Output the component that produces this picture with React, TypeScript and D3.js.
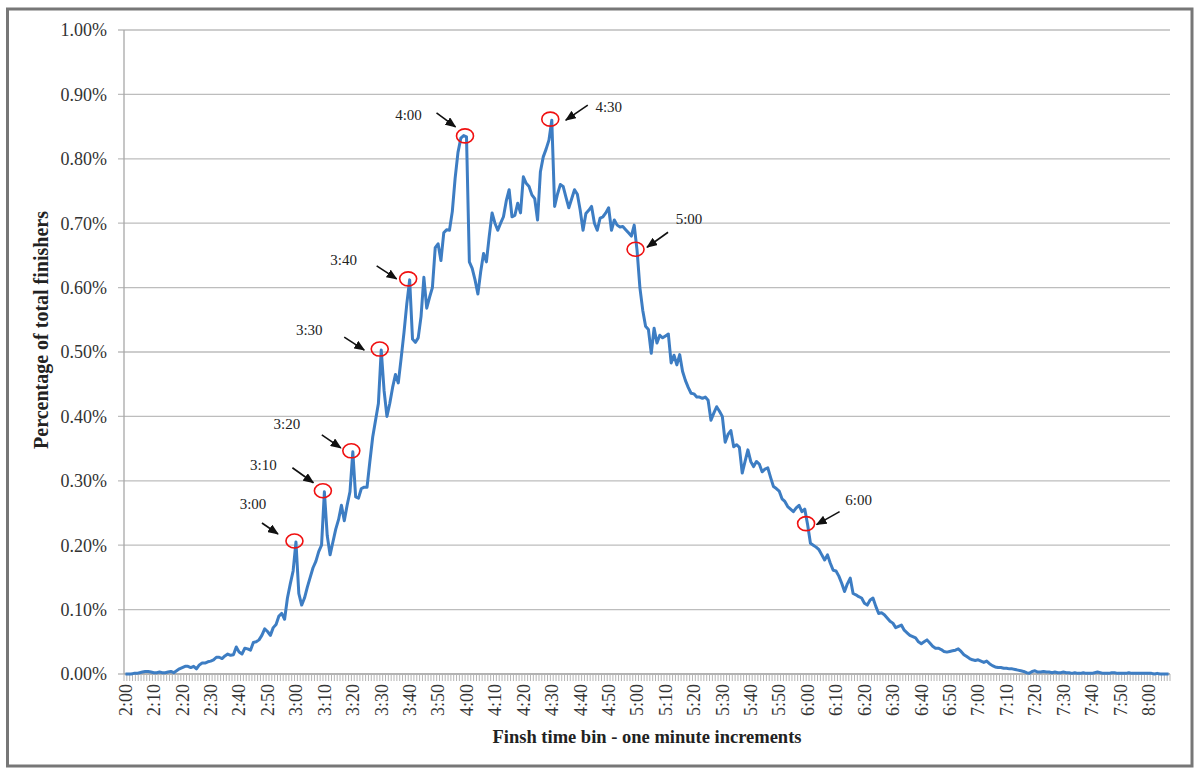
import React from 'react';
import * as d3 from 'd3';

// ---------------- DATA ----------------
const START_MINUTE = 120; // first bin = 2:00

// Percentage of total finishers per one-minute finish-time bin (2:00 ... 8:07)
const pctValues: number[] = [
  0, 0, 0, 0.001, 0.001, 0.002, 0.003, 0.004, 0.004, 0.003,
  0.002, 0.002, 0.003, 0.002, 0.002, 0.003, 0.004, 0.002, 0.005, 0.008,
  0.010, 0.012, 0.012, 0.010, 0.012, 0.008, 0.014, 0.017, 0.017, 0.019,
  0.020, 0.022, 0.026, 0.026, 0.024, 0.028, 0.031, 0.029, 0.030, 0.042,
  0.034, 0.031, 0.040, 0.039, 0.037, 0.049, 0.050, 0.053, 0.060, 0.070,
  0.066, 0.060, 0.072, 0.077, 0.090, 0.094, 0.085, 0.118, 0.140, 0.160,
  0.205, 0.125, 0.107, 0.118, 0.135, 0.150, 0.165, 0.175, 0.190, 0.200,
  0.283, 0.215, 0.185, 0.205, 0.225, 0.240, 0.262, 0.238, 0.262, 0.283,
  0.345, 0.275, 0.273, 0.288, 0.290, 0.290, 0.330, 0.368, 0.394, 0.420,
  0.503, 0.440, 0.400, 0.420, 0.445, 0.465, 0.452, 0.490, 0.530, 0.575,
  0.612, 0.520, 0.515, 0.522, 0.555, 0.616, 0.568, 0.585, 0.600, 0.662,
  0.668, 0.642, 0.685, 0.690, 0.689, 0.718, 0.770, 0.810, 0.832, 0.836,
  0.834, 0.640, 0.630, 0.612, 0.590, 0.625, 0.653, 0.640, 0.680, 0.716,
  0.700, 0.689, 0.700, 0.710, 0.735, 0.752, 0.710, 0.712, 0.731, 0.716,
  0.772, 0.762, 0.757, 0.744, 0.738, 0.705, 0.780, 0.803, 0.815, 0.829,
  0.860, 0.726, 0.745, 0.760, 0.757, 0.740, 0.724, 0.738, 0.752, 0.745,
  0.720, 0.689, 0.715, 0.720, 0.726, 0.700, 0.689, 0.708, 0.710, 0.716,
  0.724, 0.689, 0.705, 0.697, 0.694, 0.695, 0.690, 0.685, 0.680, 0.697,
  0.658, 0.600, 0.565, 0.540, 0.535, 0.498, 0.537, 0.514, 0.526, 0.522,
  0.525, 0.528, 0.483, 0.495, 0.480, 0.496, 0.470, 0.456, 0.445, 0.436,
  0.435, 0.430, 0.430, 0.428, 0.430, 0.425, 0.394, 0.405, 0.415, 0.408,
  0.400, 0.360, 0.372, 0.378, 0.353, 0.356, 0.352, 0.312, 0.330, 0.348,
  0.330, 0.322, 0.330, 0.326, 0.314, 0.318, 0.320, 0.305, 0.291, 0.288,
  0.284, 0.272, 0.268, 0.260, 0.256, 0.252, 0.258, 0.262, 0.252, 0.256,
  0.232, 0.203, 0.200, 0.197, 0.193, 0.185, 0.177, 0.185, 0.172, 0.161,
  0.160, 0.152, 0.141, 0.128, 0.140, 0.149, 0.125, 0.123, 0.120, 0.118,
  0.110, 0.107, 0.115, 0.118, 0.105, 0.094, 0.095, 0.092, 0.087, 0.082,
  0.079, 0.072, 0.074, 0.076, 0.068, 0.064, 0.060, 0.058, 0.056, 0.050,
  0.047, 0.050, 0.053, 0.048, 0.043, 0.040, 0.040, 0.038, 0.035, 0.034,
  0.035, 0.036, 0.037, 0.039, 0.035, 0.030, 0.027, 0.024, 0.022, 0.021,
  0.022, 0.020, 0.018, 0.020, 0.016, 0.013, 0.011, 0.010, 0.010, 0.009,
  0.009, 0.008, 0.008, 0.007, 0.006, 0.005, 0.004, 0.002, 0.001, 0.004,
  0.005, 0.003, 0.003, 0.004, 0.003, 0.003, 0.002, 0.003, 0.002, 0.002,
  0.003, 0.002, 0.002, 0.001, 0.002, 0.001, 0.001, 0.002, 0.001, 0.001,
  0.001, 0.002, 0.003, 0.002, 0.001, 0.001, 0.001, 0.002, 0.002, 0.001,
  0.001, 0.001, 0.001, 0.002, 0.001, 0.001, 0.001, 0.001, 0.001, 0.001,
  0.001, 0.001, 0, 0.001, 0, 0, 0, 0,
];

const fmtMinute = (m: number) => `${Math.floor(m / 60)}:${String(m % 60).padStart(2, '0')}`;
const categories: string[] = pctValues.map((_, i) => fmtMinute(START_MINUTE + i));
const tickLabels: string[] = categories.filter((_, i) => i % 10 === 0);
const yTicks: number[] = [0, 0.1, 0.2, 0.3, 0.4, 0.5, 0.6, 0.7, 0.8, 0.9, 1.0];

// annotated bins
const annotationLabels: string[] = ['3:00', '3:10', '3:20', '3:30', '3:40', '4:00', '4:30', '5:00', '6:00'];

const X_TITLE = 'Finsh time bin - one minute increments';
const Y_TITLE = 'Percentage of total finishers';

// ---------------- LAYOUT ----------------
const W = 1200;
const H = 774;
const M = { left: 124, right: 1170, top: 30, bottom: 674 };
// label offset, arrow start, arrow end (relative to the marked point)
const annLayout: { lx: number; ly: number; ax: number; ay: number; bx: number; by: number }[] = [
  { lx: -43, ly: -38, ax: -34, ay: -19, bx: -18, by: -8 },
  { lx: -61, ly: -27, ax: -32, ay: -24, bx: -11, by: -9 },
  { lx: -66, ly: -28, ax: -31, ay: -17, bx: -12, by: -4 },
  { lx: -72, ly: -20, ax: -37, ay: -13, bx: -17, by: 0 },
  { lx: -66, ly: -20, ax: -33, ay: -14, bx: -13, by: -1 },
  { lx: -58, ly: -22, ax: -30, ay: -24, bx: -11, by: -10 },
  { lx: 57, ly: -13, ax: 36, ay: -15, bx: 14, by: 0 },
  { lx: 52, ly: -31, ax: 31, ay: -18, bx: 10, by: -3 },
  { lx: 51, ly: -25, ax: 32, ay: -13, bx: 9, by: 0 },
];

const FONT = '"Liberation Serif", "Times New Roman", Times, serif';

export default function App() {
  const x = d3.scaleBand<string>().domain(categories).range([M.left, M.right]).paddingInner(0).paddingOuter(0);
  const y = d3.scaleLinear().domain([0, 1]).range([M.bottom, M.top]);
  const bw = x.bandwidth();
  const cx = (c: string) => (x(c) as number) + bw / 2;

  const line = d3
    .line<number>()
    .x((_, i) => cx(categories[i]))
    .y((d) => y(d));

  const fmtPct = (v: number) => `${v.toFixed(2)}%`;

  const boundaries = d3.range(categories.length + 1).map((i) => M.left + i * bw);

  return (
    <svg
      width={W}
      height={H}
      viewBox={`0 0 ${W} ${H}`}
      style={{ position: 'absolute', left: 0, top: 0, background: '#fff' }}
    >
      <defs>
        <marker id="ah" markerUnits="userSpaceOnUse" markerWidth={11} markerHeight={9} refX={10} refY={4.5} orient="auto">
          <path d="M0,0 L11,4.5 L0,9 Z" fill="#111" />
        </marker>
      </defs>
      <rect x={0} y={0} width={W} height={H} fill="#fff" />
      {/* outer frame */}
      <rect x={7.5} y={9} width={1184.5} height={757} fill="none" stroke="#777" strokeWidth={3} />

      {/* gridlines */}
      {yTicks.map((t) => (
        <line key={'g' + t} x1={M.left - 6} x2={M.right} y1={y(t)} y2={y(t)} stroke="#bdbdbd" strokeWidth={1.3} />
      ))}
      {/* y axis */}
      <line x1={M.left} x2={M.left} y1={M.top} y2={M.bottom} stroke="#a8a8a8" strokeWidth={1.3} />
      {yTicks.map((t) => (
        <text
          key={'yl' + t}
          x={107}
          y={y(t)}
          dy="0.35em"
          textAnchor="end"
          fontFamily={FONT}
          fontSize={18}
          fill="#333"
        >
          {fmtPct(t)}
        </text>
      ))}

      {/* x axis */}
      <line x1={M.left} x2={M.right} y1={M.bottom} y2={M.bottom} stroke="#a8a8a8" strokeWidth={1.3} />
      {boundaries.map((bx, i) => (
        <line key={'t' + i} x1={bx} x2={bx} y1={M.bottom} y2={M.bottom + 7} stroke="#b5b5b5" strokeWidth={1} />
      ))}
      {tickLabels.map((c) => (
        <text
          key={'xl' + c}
          transform={`translate(${cx(c)},${M.bottom + 10}) rotate(-90)`}
          dy="0.35em"
          textAnchor="end"
          fontFamily={FONT}
          fontSize={18}
          fill="#333"
        >
          {c}
        </text>
      ))}

      {/* axis titles */}
      <text x={647} y={743} textAnchor="middle" fontFamily={FONT} fontWeight="bold" fontSize={18.5} fill="#222">
        {X_TITLE}
      </text>
      <text
        transform={`translate(48,330) rotate(-90)`}
        textAnchor="middle"
        fontFamily={FONT}
        fontWeight="bold"
        fontSize={20}
        fill="#222"
      >
        {Y_TITLE}
      </text>

      {/* data line */}
      <path d={line(pctValues) || ''} fill="none" stroke="#3d7dc3" strokeWidth={3} strokeLinejoin="round" />

      {/* annotations */}
      {annotationLabels.map((lab, k) => {
        const i = categories.indexOf(lab);
        const px = cx(lab);
        const py = y(pctValues[i]);
        const L = annLayout[k];
        return (
          <g key={'a' + lab}>
            <ellipse cx={px - 1.5} cy={py - 1} rx={8.5} ry={7} fill="none" stroke="#f01010" strokeWidth={1.6} />
            <line
              x1={px + L.ax}
              y1={py + L.ay}
              x2={px + L.bx}
              y2={py + L.by}
              stroke="#111"
              strokeWidth={1.6}
              markerEnd="url(#ah)"
            />
            <text x={px + L.lx} y={py + L.ly} dy="0.35em" textAnchor="middle" fontFamily={FONT} fontSize={15} fill="#222">
              {lab}
            </text>
          </g>
        );
      })}
    </svg>
  );
}
